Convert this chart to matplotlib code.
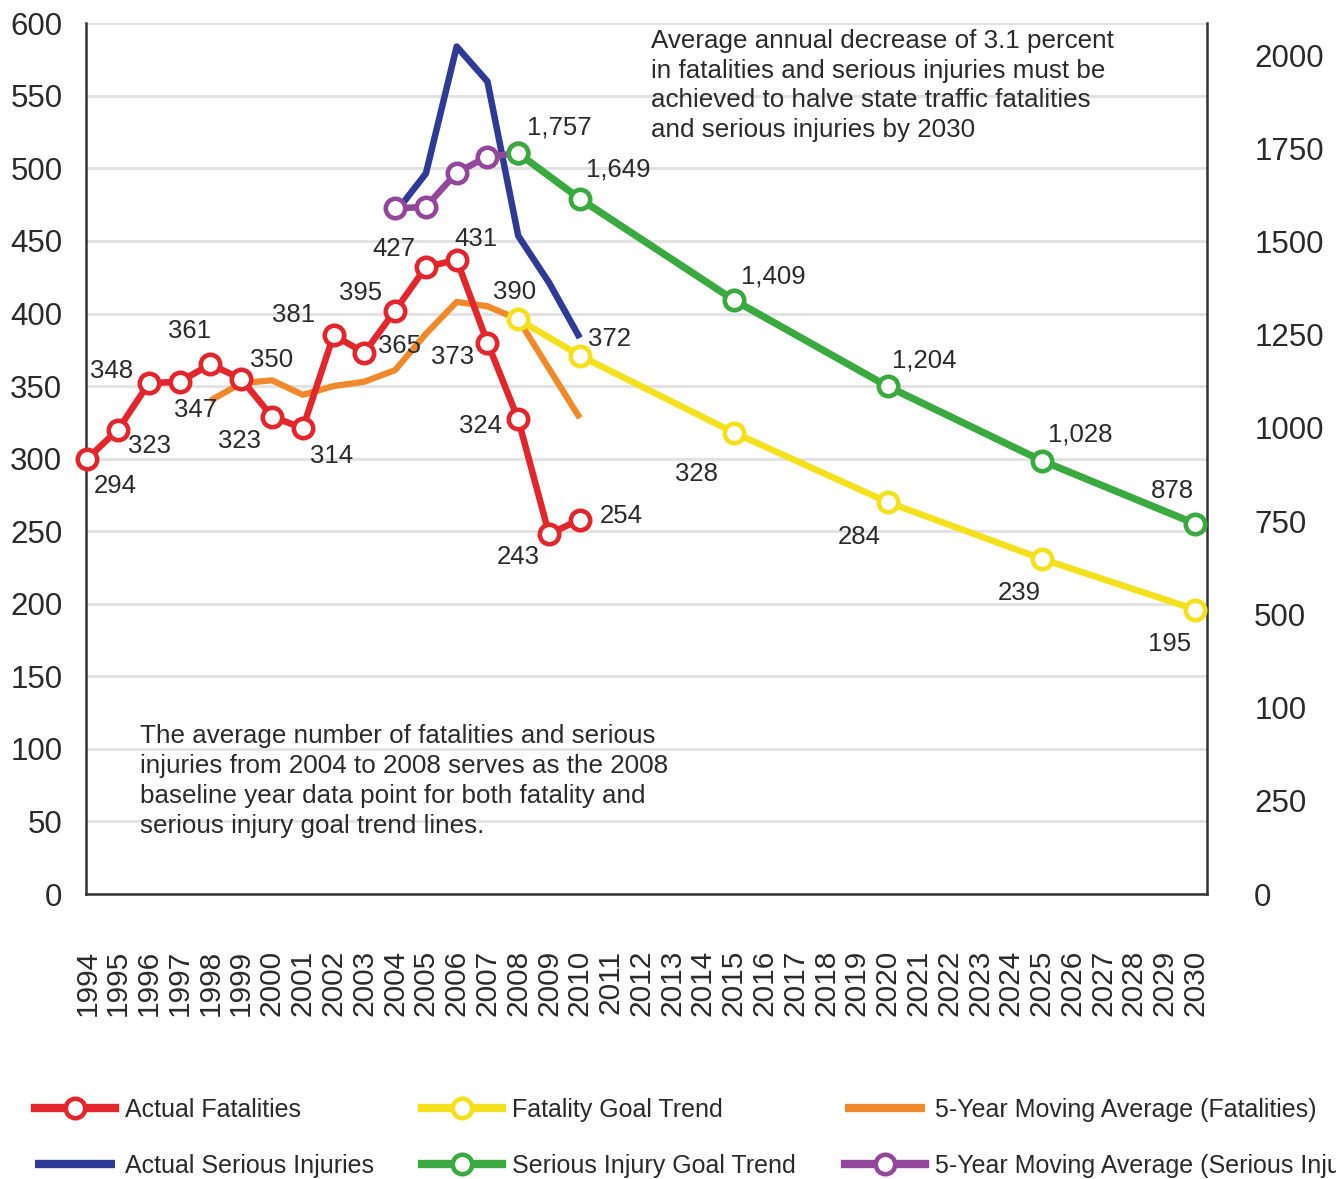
import numpy as np
import matplotlib
matplotlib.use("Agg")
import matplotlib.pyplot as plt

plt.rcParams['font.family'] = ['Liberation Sans', 'DejaVu Sans']

# ---- data ----
fat_years = list(range(1994, 2011))
fatalities = [300, 320, 352, 353, 365, 355, 329, 321, 385, 373, 402, 432, 437, 380, 327, 248, 258]
fatality_labels = ['294', '323', '348', '347', '361', '350', '323', '314', '381',
                   '365', '395', '427', '431', '373', '324', '243', '254']

ma_fat_years = list(range(1998, 2011))
ma_fatalities = [340, 352, 354, 344, 350, 353, 361, 386, 408, 405, 396, 362, 328]

si_years = list(range(2004, 2011))
serious_injuries = [1615, 1709, 2010, 1927, 1561, 1450, 1319]

ma_si_years = list(range(2004, 2009))
ma_serious = [1626, 1630, 1711, 1749, 1757]

goal_years = [2008, 2010, 2015, 2020, 2025, 2030]
fatality_goal = [396, 371, 318, 270, 231, 196]
fatality_goal_labels = ['390', '372', '328', '284', '239', '195']
injury_goal = [1757, 1649, 1409, 1204, 1028, 878]
injury_goal_labels = ['1,757', '1,649', '1,409', '1,204', '1,028', '878']

left_ticks = list(range(0, 601, 50))
right_tick_labels = ['0', '250', '100', '500', '750', '1000', '1250', '1500', '1750', '2000']

# label offsets in pixels (dx, dy up)
fat_off = [(28, -27), (31, -16), (-37, 12), (16, -28), (-21, 33), (30, 19), (-32, -24),
           (29, -28), (-40, 20), (35, 7), (-35, 18), (-32, 18), (19, 21), (-35, -14),
           (-38, -7), (-31, -23), (41, 4)]
fgoal_off = [(-4, 27), (30, 17), (-37, -41), (-28, -35), (-22, -34), (-26, -34)]
igoal_off = [(41, 26), (38, 29), (40, 23), (37, 26), (39, 26), (-23, 33)]

RED = '#e3262e'
BLUE = '#2f3a94'
YELLOW = '#f4e01c'
GREEN = '#3aa93f'
ORANGE = '#f0892c'
PURPLE = '#93479b'
TXT = '#2a2a2a'

fig = plt.figure(figsize=(13.36, 11.79), dpi=100)
ax = fig.add_axes([0.06437, 0.24173, 0.83907, 0.73851])
ax2 = ax.twinx()

mk = dict(marker='o', markersize=14, markerfacecolor='white', markeredgewidth=3.3)

ax.plot(ma_fat_years, ma_fatalities, color=ORANGE, lw=4.5, solid_capstyle='butt',
        solid_joinstyle='round', label='5-Year Moving Average (Fatalities)', zorder=3)
ax.plot(goal_years, fatality_goal, color=YELLOW, lw=4.7, markeredgecolor=YELLOW,
        label='Fatality Goal Trend', zorder=4, clip_on=False, **mk)
ax.plot(fat_years, fatalities, color=RED, lw=4.7, markeredgecolor=RED,
        label='Actual Fatalities', zorder=5, clip_on=False, **mk)

ax2.plot(si_years, serious_injuries, color=BLUE, lw=4.7, solid_joinstyle='round',
         solid_capstyle='butt', label='Actual Serious Injuries', zorder=3)
ax2.plot(ma_si_years, ma_serious, color=PURPLE, lw=4.7, markeredgecolor=PURPLE,
         label='5-Year Moving Average (Serious Injuries)', zorder=4, **mk)
ax2.plot(goal_years, injury_goal, color=GREEN, lw=5.2, markeredgecolor=GREEN,
         label='Serious Injury Goal Trend', zorder=5, clip_on=False, **mk)

lab = dict(fontsize=18.5, color=TXT, ha='center', va='center', textcoords='offset pixels')
for x, y, t, o in zip(fat_years, fatalities, fatality_labels, fat_off):
    ax.annotate(t, (x, y), xytext=o, zorder=6, **lab)
for x, y, t, o in zip(goal_years, fatality_goal, fatality_goal_labels, fgoal_off):
    ax.annotate(t, (x, y), xytext=o, zorder=6, **lab)
for x, y, t, o in zip(goal_years, injury_goal, injury_goal_labels, igoal_off):
    ax2.annotate(t, (x, y), xytext=o, zorder=6, **lab)

ax.set_xlim(1993.958, 2030.374)
ax.set_ylim(0, 600)
ax2.set_ylim(0, 2065.2)

ax.set_yticks(left_ticks)
ax.set_yticklabels([str(v) for v in left_ticks])
ax2.set_yticks(np.linspace(0, 1990, len(right_tick_labels)))
ax2.set_yticklabels(right_tick_labels)
ax.set_xticks(list(range(1994, 2031)))
ax.set_xticklabels([str(y) for y in range(1994, 2031)], rotation=90)

ax.tick_params(axis='y', length=0, pad=17, labelsize=22.5, labelcolor=TXT)
ax2.tick_params(axis='y', length=0, pad=34, labelsize=22.5, labelcolor=TXT)
ax.tick_params(axis='x', length=0, pad=40, labelsize=21.5, labelcolor=TXT)

ax.grid(axis='y', color='#e3e3e3', lw=2.2)
ax.set_axisbelow(True)
ax.spines['top'].set_visible(False)
for s in ['left', 'bottom', 'right']:
    ax.spines[s].set_color('#333333')
    ax.spines[s].set_linewidth(1.8)
for s in ax2.spines.values():
    s.set_visible(False)
ax2.patch.set_visible(False)

fig.text(0.4873, 0.9755, 'Average annual decrease of 3.1 percent\n'
         'in fatalities and serious injuries must be\n'
         'achieved to halve state traffic fatalities\n'
         'and serious injuries by 2030',
         fontsize=18.7, color=TXT, ha='left', va='top', linespacing=1.3)
fig.text(0.1048, 0.3855, 'The average number of fatalities and serious\n'
         'injuries from 2004 to 2008 serves as the 2008\n'
         'baseline year data point for both fatality and\n'
         'serious injury goal trend lines.',
         fontsize=18.7, color=TXT, ha='left', va='top', linespacing=1.3)

h1, l1 = ax.get_legend_handles_labels()
h2, l2 = ax2.get_legend_handles_labels()
hd = dict(zip(l1 + l2, h1 + h2))
order = ['Actual Fatalities', 'Actual Serious Injuries', 'Fatality Goal Trend',
         'Serious Injury Goal Trend', '5-Year Moving Average (Fatalities)',
         '5-Year Moving Average (Serious Injuries)']
leg = fig.legend([hd[k] for k in order], order, loc='upper left',
                 bbox_to_anchor=(0.026, 0.069), ncol=3, frameon=False, fontsize=18,
                 handlelength=3.2, handletextpad=0.4, columnspacing=1.95,
                 labelspacing=1.3, borderpad=0, borderaxespad=0, labelcolor=TXT)
for ln in leg.get_lines():
    ln.set_linewidth(6)

fig.savefig('out.png', dpi=100)
